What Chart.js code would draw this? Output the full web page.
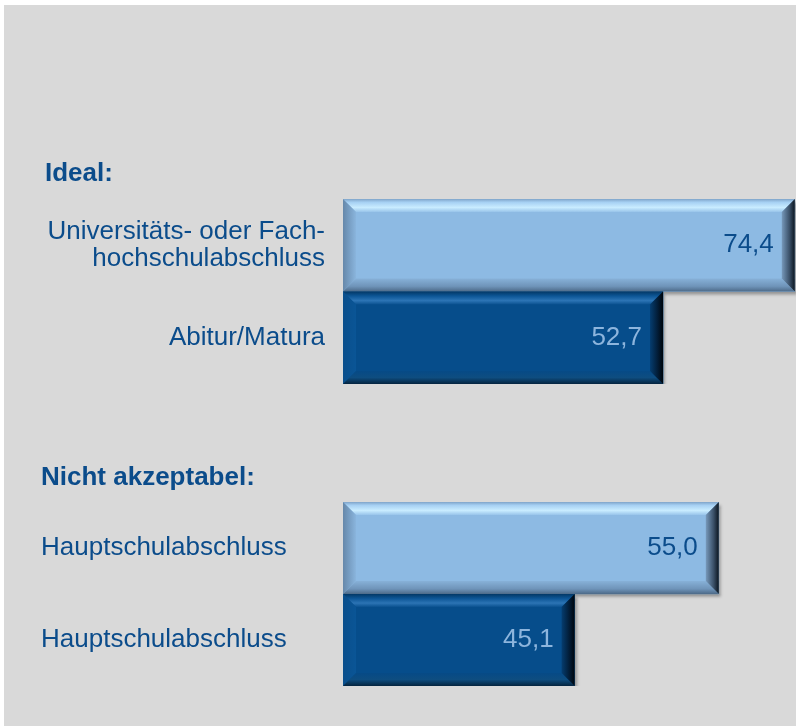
<!DOCTYPE html>
<html lang="de">
<head>
<meta charset="utf-8">
<title>Ideal / Nicht akzeptabel</title>
<script src="https://cdn.jsdelivr.net/npm/chart.js@4.4.1/dist/chart.umd.min.js"></script>
<style>
  html, body { margin: 0; padding: 0; background: #ffffff; overflow: hidden; }
  #bg { position: absolute; left: 4px; top: 5px; width: 792px; height: 721px; background: #d9d9d9; }
  .box { position: absolute; left: 0; width: 796px; }
  #idealBox { top: 150px; height: 234px; }
  #rejectBox { top: 450px; height: 236px; }
</style>
</head>
<body>
<div id="bg"></div>
<div class="box" id="idealBox"><canvas id="idealChart"></canvas></div>
<div class="box" id="rejectBox"><canvas id="rejectChart"></canvas></div>
<script>
  'use strict';

  // data
  const idealTitle = 'Ideal:';
  const idealLabels = [['Universitäts- oder Fach-', 'hochschulabschluss'], 'Abitur/Matura'];
  const idealValues = [74.4, 52.7];
  const idealRange = [0, 74.6];

  const rejectTitle = 'Nicht akzeptabel:';
  const rejectLabels = ['Hauptschulabschluss', 'Hauptschulabschluss'];
  const rejectValues = [55.0, 45.1];
  const rejectRange = [29.2, 60.3];

  const barColors = ['#8dbae3', '#064d8b'];
  const valueColors = ['#0b4c8b', '#8db5dd'];
  const textColor = '#0b4c8b';
  const fontFamily = '"Liberation Sans", Arial, Helvetica, sans-serif';

  function formatValue(v) {
    return v.toFixed(1).replace('.', ',');
  }

  function fillPoly(ctx, pts, style) {
    ctx.beginPath();
    ctx.moveTo(pts[0][0], pts[0][1]);
    for (let i = 1; i < pts.length; i++) ctx.lineTo(pts[i][0], pts[i][1]);
    ctx.closePath();
    ctx.fillStyle = style;
    ctx.fill();
  }

  function grad(ctx, x0, y0, x1, y1, stops) {
    const g = ctx.createLinearGradient(x0, y0, x1, y1);
    stops.forEach(function (s) { g.addColorStop(s[0], s[1]); });
    return g;
  }

  // bevelled edges over each bar, using the bar elements' own geometry
  const bevelPlugin = {
    id: 'bevel',
    beforeDatasetsDraw: function (chart) {
      const ctx = chart.ctx;
      ctx.save();
      ctx.shadowColor = 'rgba(0,0,0,0.35)';
      ctx.shadowOffsetX = 2;
      ctx.shadowOffsetY = 3;
      ctx.shadowBlur = 3;
    },
    afterDatasetsDraw: function (chart) {
      const ctx = chart.ctx;
      const area = chart.chartArea;
      ctx.restore();
      ctx.save();
      const meta = chart.getDatasetMeta(0);
      meta.data.forEach(function (bar, i) {
        const left = Math.max(Math.min(bar.base, bar.x), area.left);
        const right = Math.min(Math.max(bar.base, bar.x), area.right);
        const top = bar.y - bar.height / 2;
        const bottom = bar.y + bar.height / 2;
        const b = 13;
        const light = i === 0;

        // top
        fillPoly(ctx, [[left, top], [right, top], [right - b, top + b], [left + b, top + b]],
          light
            ? grad(ctx, 0, top, 0, top + b, [[0, '#7fa4c9'], [0.25, '#a6d0f3'], [0.65, '#c9ecff'], [1, '#98c4ea']])
            : grad(ctx, 0, top, 0, top + b, [[0, '#033866'], [0.35, '#0d5696'], [0.7, '#2c74b5'], [1, '#0a5190']]));
        // left
        fillPoly(ctx, [[left, top], [left + b, top + b], [left + b, bottom - b], [left, bottom]],
          light
            ? grad(ctx, left, 0, left + b, 0, [[0, '#6688aa'], [1, '#8ab5dd']])
            : grad(ctx, left, 0, left + b, 0, [[0, '#0a4f8c'], [1, '#0a5596']]));
        // bottom
        fillPoly(ctx, [[left, bottom], [left + b, bottom - b], [right - b, bottom - b], [right, bottom]],
          light
            ? grad(ctx, 0, bottom - b, 0, bottom, [[0, '#87b1d8'], [0.6, '#6f94b9'], [1, '#4d6a88']])
            : grad(ctx, 0, bottom - b, 0, bottom, [[0, '#064a86'], [0.5, '#0e4d80'], [1, '#04243f']]));
        // right
        fillPoly(ctx, [[right, top], [right, bottom], [right - b, bottom - b], [right - b, top + b]],
          light
            ? grad(ctx, right - b, 0, right, 0, [[0, '#7799bb'], [0.6, '#3a5068'], [1, '#0c1620']])
            : grad(ctx, right - b, 0, right, 0, [[0, '#053d70'], [0.6, '#021c36'], [1, '#00060c']]));

        // value label
        ctx.font = '26px ' + fontFamily;
        ctx.textAlign = 'right';
        ctx.textBaseline = 'middle';
        ctx.fillStyle = valueColors[i];
        const value = chart.data.datasets[0].data[i];
        ctx.fillText(formatValue(value), right - 21, bar.y);
      });
      ctx.restore();
    }
  };

  function makeChart(canvasId, title, labels, values, range, padLeft, crossAlign, titlePad) {
    return new Chart(document.getElementById(canvasId), {
      type: 'bar',
      data: {
        labels: labels,
        datasets: [{
          data: values,
          backgroundColor: barColors,
          borderWidth: 0,
          barPercentage: 1,
          categoryPercentage: 1
        }]
      },
      options: {
        indexAxis: 'y',
        responsive: true,
        maintainAspectRatio: false,
        animation: false,
        events: [],
        layout: { padding: { left: padLeft, right: 0, top: 0, bottom: 0 } },
        plugins: {
          legend: { display: false },
          tooltip: { enabled: false },
          title: {
            display: true,
            text: title,
            align: 'start',
            color: textColor,
            font: { family: fontFamily, size: 26, weight: 'bold', lineHeight: 1.2 },
            padding: titlePad
          }
        },
        scales: {
          x: {
            display: false,
            min: range[0],
            max: range[1]
          },
          y: {
            grid: { display: false, drawTicks: false },
            border: { display: false },
            ticks: {
              color: textColor,
              padding: 18,
              crossAlign: crossAlign,
              font: { family: fontFamily, size: 26, lineHeight: 1.04 }
            },
            afterFit: function (scale) {
              scale.width = 343 - padLeft;
              scale.paddingTop = 0;
              scale.paddingBottom = 0;
            }
          }
        }
      },
      plugins: [bevelPlugin]
    });
  }

  makeChart('idealChart', idealTitle, idealLabels, idealValues, idealRange, 45, 'near', { top: 8.4, bottom: 9.4 });
  makeChart('rejectChart', rejectTitle, rejectLabels, rejectValues, rejectRange, 41, 'far', { top: 12.4, bottom: 8.4 });
</script>
</body>
</html>
